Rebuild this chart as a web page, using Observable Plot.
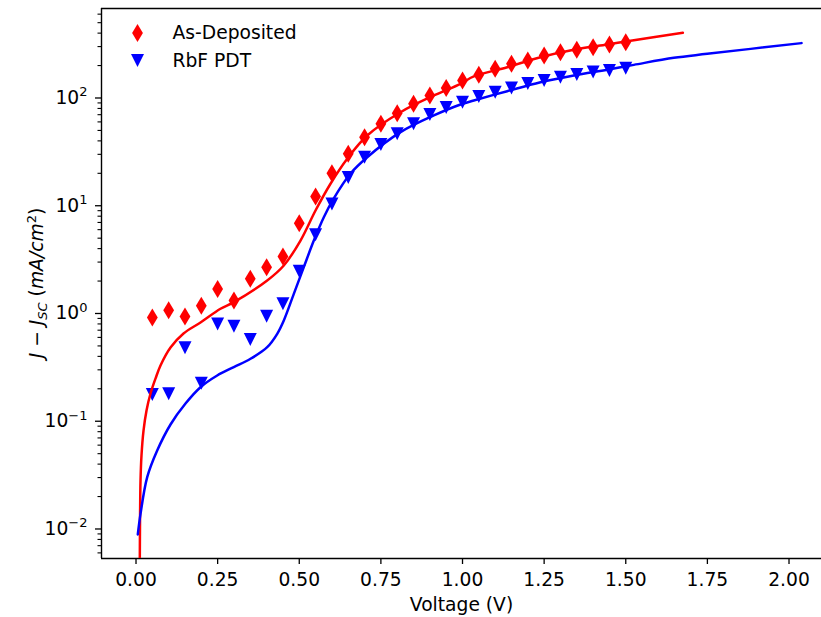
<!DOCTYPE html>
<html>
<head>
<meta charset="utf-8">
<script src="https://cdn.jsdelivr.net/npm/d3@7"></script>
<script src="https://cdn.jsdelivr.net/npm/@observablehq/plot@0.6"></script>
<style>
  html, body { margin: 0; padding: 0; background: #fff; }
  #chart svg { display: block; }
</style>
</head>
<body>
<div id="chart"></div>
<script>
// Measured points (V, mA/cm^2)
const voltage = [0.05, 0.10, 0.15, 0.20, 0.25, 0.30, 0.35, 0.40, 0.45, 0.50,
                 0.55, 0.60, 0.65, 0.70, 0.75, 0.80, 0.85, 0.90, 0.95, 1.00,
                 1.05, 1.10, 1.15, 1.20, 1.25, 1.30, 1.35, 1.40, 1.45, 1.50];
const asDeposited = [0.92, 1.07, 0.94, 1.18, 1.69, 1.32, 2.10, 2.69, 3.38, 6.88,
                     12.2, 20.0, 30.3, 43.3, 57.7, 72.2, 88.4, 105.5, 124, 145,
                     164, 187, 208, 223, 248, 266, 280, 296, 314, 330];
const rbfPdt = [0.177, 0.18, 0.48, 0.225, 0.80, 0.76, 0.574, 0.944, 1.23, 2.47,
                5.37, 10.4, 18.3, 28.2, 37, 46.6, 57.7, 70.3, 81.6, 91.4,
                103, 113, 124, 136, 145, 156, 165, 174, 180, 189];

// Fitted curves
const fitAsDepositedV = [0.0116, 0.0123, 0.0138, 0.0168, 0.0230, 0.0322, 0.0444, 0.0597, 0.0750, 0.1057,
                         0.1455, 0.1975, 0.2588, 0.2995, 0.4018, 0.4527, 0.5038, 0.5498, 0.5957, 0.6469,
                         0.7081, 0.8101, 0.9121, 0.9939, 1.0346, 1.1369, 1.2389, 1.3409, 1.4432, 1.5198,
                         1.6748];
const fitAsDepositedJ = [0.0051, 0.0120, 0.0282, 0.0481, 0.082, 0.126, 0.181, 0.249, 0.329, 0.483,
                         0.652, 0.825, 1.106, 1.274, 2.025, 2.79, 4.75, 9.03, 16.0, 27.3,
                         44.9, 73.8, 105.5, 135.5, 158.5, 193, 239, 280, 314, 342,
                         403];
const fitRbfV = [0.0055, 0.0138, 0.0343, 0.0649, 0.1057, 0.1516, 0.1975, 0.2487, 0.2995, 0.3507,
                 0.4018, 0.4325, 0.4527, 0.4833, 0.5139, 0.5446, 0.5752, 0.6058, 0.6570, 0.7081,
                 0.8101, 0.9121, 0.9939, 1.0346, 1.1369, 1.2389, 1.3409, 1.4432, 1.5247, 1.6472,
                 1.7495, 2.0383];
const fitRbfJ = [0.0089, 0.0138, 0.0303, 0.0535, 0.0933, 0.146, 0.207, 0.266, 0.318, 0.380,
                 0.487, 0.648, 0.861, 1.52, 2.69, 4.75, 7.83, 11.7, 19.9, 28.2,
                 48.2, 68.9, 87.1, 94.8, 115.7, 140, 162, 183, 203, 236,
                 257, 323];

const seriesNames = ["As-Deposited", "RbF PDT"];
const seriesColors = ["#ff0000", "#0000ff"];

const xTicks = [0.00, 0.25, 0.50, 0.75, 1.00, 1.25, 1.50, 1.75, 2.00];
const yTicks = [0.01, 0.1, 1, 10, 100];
const xDomain = [-0.1057, 2.0995];
const yDomain = [0.005322, 677];
const xLabel = "Voltage (V)";
const fontSize = 18.7;

// minor log ticks (2..9 per decade) inside the y domain
const yMinor = [];
for (const t of [0.001, ...yTicks]) for (let k = 2; k <= 9; k++) {
  const v = t * k;
  if (v > yDomain[0] && v < yDomain[1]) yMinor.push(v);
}

const pts = (vs, js) => vs.map((v, i) => ({v, j: js[i]}));
const dataA = pts(voltage, asDeposited);
const dataB = pts(voltage, rbfPdt);
const fitA = pts(fitAsDepositedV, fitAsDepositedJ);
const fitB = pts(fitRbfV, fitRbfJ);

// marker shapes: thin diamond and downward triangle, centred on their box
const thinDiamond = {draw(ctx, size) {
  const r = Math.sqrt(size / Math.PI), w = r * 0.6;
  ctx.moveTo(0, -r); ctx.lineTo(w, 0); ctx.lineTo(0, r); ctx.lineTo(-w, 0); ctx.closePath();
}};
const triangleDown = {draw(ctx, size) {
  const r = Math.sqrt(size / Math.PI);
  ctx.moveTo(-r, -r); ctx.lineTo(r, -r); ctx.lineTo(0, r); ctx.closePath();
}};
const symbols = [thinDiamond, triangleDown];
const radii = [9, 6.5];

const chart = Plot.plot({
  width: 821,
  height: 617,
  marginLeft: 101,
  marginRight: 0,
  marginTop: 8,
  marginBottom: 59,
  style: {fontFamily: "DejaVu Sans", fontSize: fontSize + "px", background: "#fff", color: "#000", overflow: "visible"},
  x: {domain: xDomain},
  y: {type: "log", domain: yDomain},
  marks: [
    Plot.axisX({ticks: xTicks, tickFormat: d => d.toFixed(2), tickSize: 6, tickPadding: 8, label: null, strokeWidth: 1.3}),
    Plot.axisY({ticks: yMinor, tickFormat: () => "", tickSize: 3.5, label: null, strokeWidth: 1.1}),
    Plot.axisY({ticks: yTicks, tickFormat: d => String(Math.round(Math.log10(d))), tickSize: 6, tickPadding: 8, label: null, strokeWidth: 1.3}),
    Plot.ruleX([xDomain[0]], {stroke: "#000", strokeWidth: 1.4}),
    Plot.ruleY(yDomain, {stroke: "#000", strokeWidth: 1.4}),
    Plot.dot(dataA, {x: "v", y: "j", symbol: symbols[0], r: radii[0], fill: seriesColors[0], stroke: "none"}),
    Plot.dot(dataB, {x: "v", y: "j", symbol: symbols[1], r: radii[1], fill: seriesColors[1], stroke: "none"}),
    Plot.line(fitA, {x: "v", y: "j", stroke: seriesColors[0], strokeWidth: 2.5, curve: "catmull-rom", clip: true}),
    Plot.line(fitB, {x: "v", y: "j", stroke: seriesColors[1], strokeWidth: 2.5, curve: "catmull-rom", clip: true}),
    // legend
    Plot.dot([0], {frameAnchor: "top-left", dx: 36, dy: 24.5, symbol: symbols[0], r: radii[0], fill: seriesColors[0], stroke: "none"}),
    Plot.dot([0], {frameAnchor: "top-left", dx: 36, dy: 52, symbol: symbols[1], r: radii[1], fill: seriesColors[1], stroke: "none"}),
    Plot.text([seriesNames[0]], {text: d => d, frameAnchor: "top-left", dx: 71, dy: 25, textAnchor: "start", lineAnchor: "middle", fontSize, fill: "#000"}),
    Plot.text([seriesNames[1]], {text: d => d, frameAnchor: "top-left", dx: 71, dy: 52.5, textAnchor: "start", lineAnchor: "middle", fontSize, fill: "#000"}),
    // x-axis title
    Plot.text([xLabel], {text: d => d, frameAnchor: "bottom", dy: 47, lineAnchor: "middle", fontSize, fill: "#000"})
  ]
});

document.getElementById("chart").appendChild(chart);

const svg = d3.select(chart);

// power-of-ten tick labels with raised exponents
svg.selectAll("g[aria-label='y-axis tick label'] text").each(function() {
  const s = this.textContent;
  if (!s) return;
  const exp = s.replace("-", "\u2212");
  const t = d3.select(this);
  t.text("10");
  t.append("tspan").attr("font-size", 13).attr("dy", -7.5).text(exp);
});

// y-axis title: J − J_SC (mA/cm²)
const ylab = svg.append("text")
  .attr("transform", "translate(43,283) rotate(-90)")
  .attr("text-anchor", "middle")
  .attr("font-size", fontSize)
  .attr("fill", "#000");
ylab.append("tspan").attr("font-style", "italic").text("J");
ylab.append("tspan").text(" \u2212 ");
ylab.append("tspan").attr("font-style", "italic").text("J");
ylab.append("tspan").attr("font-style", "italic").attr("font-size", 13).attr("dy", 3.5).text("SC");
ylab.append("tspan").attr("dy", -3.5).text(" (");
ylab.append("tspan").attr("font-style", "italic").text("mA/cm");
ylab.append("tspan").attr("font-size", 13).attr("dy", -7).text("2");
ylab.append("tspan").attr("dy", 7).text(")");
</script>
</body>
</html>
